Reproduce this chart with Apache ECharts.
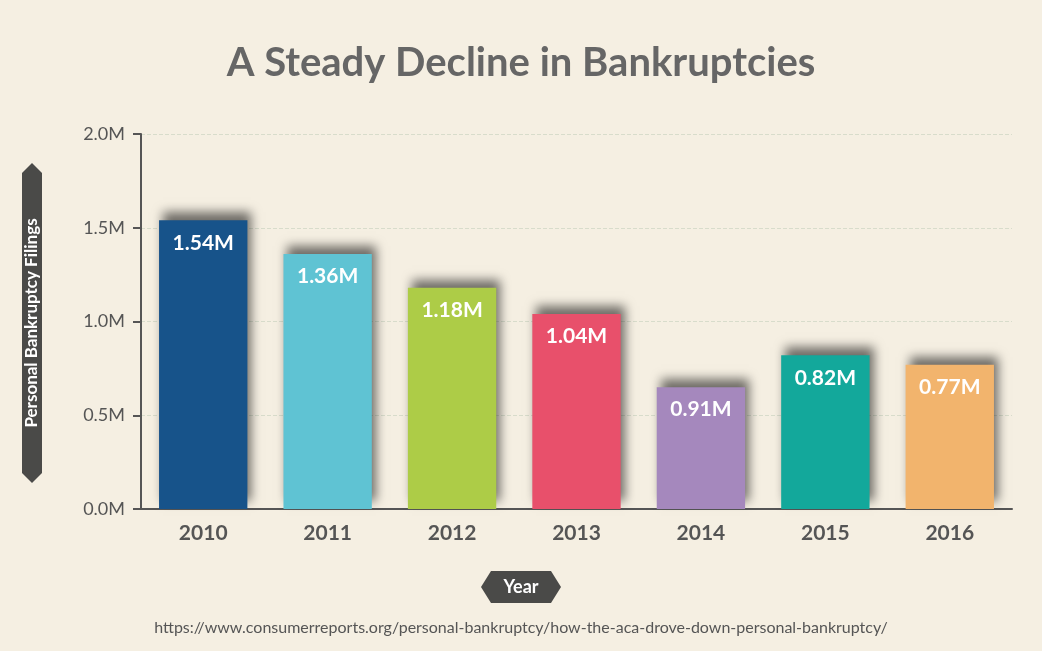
<!DOCTYPE html>
<html><head><meta charset="utf-8">
<script src="https://cdn.jsdelivr.net/npm/echarts@6/dist/echarts.min.js"></script>
<style>html,body{margin:0;background:#f5efe2}#c{width:1042px;height:651px}</style>
</head><body><div id="c"></div>
<script>
const years = ['2010','2011','2012','2013','2014','2015','2016'];
const filings = [1.54, 1.36, 1.18, 1.04, 0.65, 0.82, 0.77];
const labels = ['1.54M','1.36M','1.18M','1.04M','0.91M','0.82M','0.77M'];
const colors = ['#17538a','#5fc3d3','#adcc47','#e8506b','#a588bd','#13a89b','#f2b46d'];
const yTicks = [0, 0.5, 1.0, 1.5, 2.0];

const chart = echarts.init(document.getElementById('c'));
chart.setOption({
  backgroundColor: '#f5efe2',
  title: { text: 'A Steady Decline in Bankruptcies', left: 'center', top: 38,
    textStyle: { fontFamily: 'Lato', fontWeight: 'bold', fontSize: 40, color: '#666' } },
  grid: { left: 141, right: 30, top: 134, bottom: 142 },
  xAxis: { type: 'category', data: years,
    axisLine: { lineStyle: { color: '#555', width: 2 } },
    axisTick: { alignWithLabel: false, length: 6, lineStyle: { color: '#555', width: 2 } },
    axisLabel: { color: '#555', fontSize: 21, fontWeight: 'bold', fontFamily: 'Lato', margin: 14 } },
  yAxis: { type: 'value', min: 0, max: 2, interval: 0.5,
    axisLine: { show: true, lineStyle: { color: '#555', width: 2 } },
    axisTick: { show: true, length: 8, lineStyle: { color: '#555', width: 2 } },
    axisLabel: { color: '#555', fontSize: 18, fontFamily: 'Lato', margin: 16,
      formatter: v => yTicks.includes(v) ? v.toFixed(1) + 'M' : '' },
    splitLine: { lineStyle: { color: '#d8dccb', type: 'dashed' } } },
  series: [{
    type: 'bar', barWidth: '71%',
    data: filings.map((v, i) => ({ value: v, itemStyle: { color: colors[i] },
      label: { formatter: labels[i] } })),
    itemStyle: { shadowColor: 'rgba(0,0,0,0.55)', shadowBlur: 10, shadowOffsetX: 4, shadowOffsetY: -8 },
    label: { show: true, position: 'insideTop', distance: 12, color: '#fff',
      fontSize: 21, fontWeight: 'bold', fontFamily: 'Lato' }
  }],
  graphic: [
    { type: 'group', left: 22, top: 163, children: [
      { type: 'polygon', shape: { points: [[0,10],[10,0],[20,10],[20,310],[10,320],[0,310]] },
        style: { fill: '#4a4a48' } },
      { type: 'text', x: 10, y: 160, rotation: Math.PI / 2,
        style: { text: 'Personal Bankruptcy Filings', fill: '#fff', fontSize: 17, fontWeight: 'bold',
          fontFamily: 'Lato', align: 'center', verticalAlign: 'middle' } }
    ]},
    { type: 'group', left: 481, top: 571, children: [
      { type: 'polygon', shape: { points: [[0,16],[10,0],[70,0],[80,16],[70,32],[10,32]] },
        style: { fill: '#4a4a48' } },
      { type: 'text', x: 40, y: 16,
        style: { text: 'Year', fill: '#fff', fontSize: 18, fontWeight: 'bold', fontFamily: 'Lato',
          align: 'center', verticalAlign: 'middle' } }
    ]},
    { type: 'text', left: 'center', top: 620,
      style: { text: 'https://www.consumerreports.org/personal-bankruptcy/how-the-aca-drove-down-personal-bankruptcy/',
        fill: '#555', fontSize: 16, fontFamily: 'Lato' } }
  ]
});
</script></body></html>
